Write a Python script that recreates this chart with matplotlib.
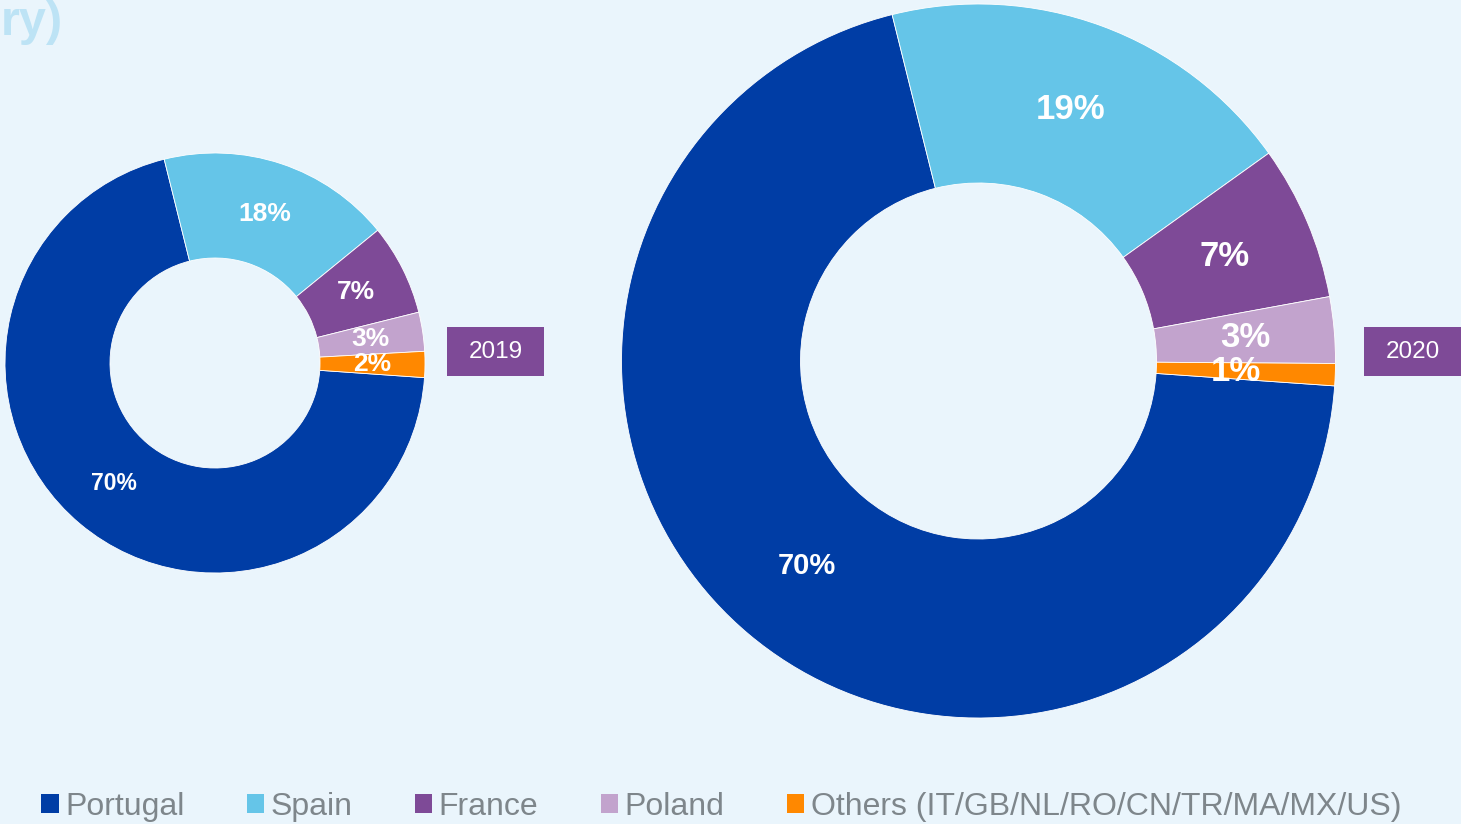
import matplotlib
matplotlib.use("Agg")
import matplotlib.pyplot as plt
from matplotlib.patches import Patch, Rectangle

# ---- data ----
countries = ["Portugal", "Spain", "France", "Poland", "Others (IT/GB/NL/RO/CN/TR/MA/MX/US)"]
share_2019 = [70, 18, 7, 3, 2]
share_2020 = [70, 19, 7, 3, 1]
years = ["2019", "2020"]
colors = ["#003DA5", "#65C5E8", "#7E4A97", "#C2A3CD", "#FF8800"]
bg = "#EAF5FC"

W, H = 1461, 824
fig = plt.figure(figsize=(W / 100, H / 100), dpi=100, facecolor=bg)
ax = fig.add_axes([0, 0, 1, 1])
ax.set_facecolor(bg)

font = "Liberation Sans"


def donut(values, cx, cy, r, w, small_fs, big_fs):
    wedges, _, autotexts = ax.pie(
        values, colors=colors, startangle=-4, counterclock=False,
        center=(cx, H - cy), radius=r, pctdistance=0.75,
        autopct=lambda p: f"{p:.0f}%",
        wedgeprops=dict(width=w, edgecolor="white", linewidth=0.6),
        textprops=dict(color="white", fontweight="bold", family=font),
    )
    for i, t in enumerate(autotexts):
        t.set_fontsize(big_fs if i == 0 else small_fs)
    return wedges, autotexts


donut(share_2019, 215, 363, 210, 105, 19, 16.5)
_, at20 = donut(share_2020, 978.5, 361, 357, 179, 25, 21)
# the smallest 2020 label sits slightly inward in the reference
x, y = at20[4].get_position()
at20[4].set_position((x - 10, y))

ax.set_xlim(0, W)
ax.set_ylim(0, H)
ax.set_aspect("auto")
ax.axis("off")

# year boxes
for yr, x0 in zip(years, [447, 1364]):
    ax.add_patch(Rectangle((x0, H - 376), 97, 49, facecolor="#7E4A97", edgecolor="none"))
    ax.text(x0 + 48.5, H - 351.5, yr, color="white", fontsize=17.5, family=font,
            ha="center", va="center")

# partial title at top left
ax.text(1, H - 35, "ry)", color="#BDE3F5", fontsize=35, fontweight="bold",
        family=font, ha="left", va="baseline")

# legend
handles = [Patch(facecolor=c, edgecolor="none") for c in colors]
leg = fig.legend(handles, countries, loc="center left",
                 bbox_to_anchor=(41 / W, 17 / H), ncol=5, frameon=False,
                 prop=dict(family=font, size=23), handlelength=0.55,
                 handleheight=0.55, handletextpad=0.2, columnspacing=1.95,
                 borderpad=0, borderaxespad=0)
for t in leg.get_texts():
    t.set_color("#7E868B")

fig.savefig("out.png", dpi=100, facecolor=bg)
